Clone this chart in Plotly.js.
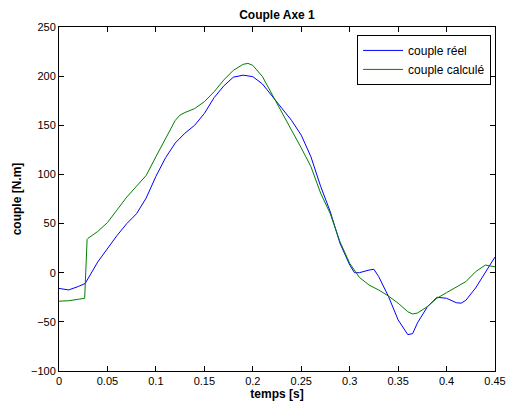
<!DOCTYPE html>
<html>
<head>
<meta charset="utf-8">
<script src="https://cdn.plot.ly/plotly-3.0.1.min.js"></script>
<style>html,body{margin:0;padding:0;background:#fff;}#chart{width:508px;height:414px;}</style>
</head>
<body>
<div id="chart"></div>
<script>
const tReel = [0, 0.01, 0.02, 0.027, 0.04, 0.05, 0.06, 0.07, 0.08, 0.09, 0.1, 0.11, 0.12, 0.13, 0.14, 0.15, 0.16, 0.17, 0.18, 0.19, 0.2, 0.21, 0.22, 0.23, 0.24, 0.25, 0.26, 0.27, 0.28, 0.29, 0.3, 0.305, 0.31, 0.32, 0.325, 0.33, 0.34, 0.35, 0.36, 0.365, 0.37, 0.38, 0.39, 0.4, 0.41, 0.415, 0.42, 0.43, 0.44, 0.45];
const coupleReel = [-16, -17.5, -14, -11, 11, 25, 38, 50, 60, 76, 98, 117, 132, 142, 150, 162, 178, 190, 199, 201, 199.5, 192, 180, 168, 155, 140, 118, 88, 62, 30, 8, 0, 0, 2.7, 3.5, -4, -24, -48, -63, -62, -51, -35, -25, -26, -30.5, -31, -28, -15.5, 0, 16];
const tCalc = [0, 0.01, 0.02, 0.0265, 0.029, 0.03, 0.04, 0.05, 0.06, 0.07, 0.08, 0.09, 0.1, 0.11, 0.12, 0.125, 0.13, 0.14, 0.15, 0.16, 0.17, 0.18, 0.19, 0.195, 0.2, 0.21, 0.22, 0.23, 0.24, 0.25, 0.26, 0.27, 0.28, 0.29, 0.3, 0.31, 0.32, 0.33, 0.34, 0.35, 0.36, 0.365, 0.37, 0.38, 0.39, 0.4, 0.41, 0.42, 0.43, 0.44, 0.45];
const coupleCalc = [-29, -28.5, -27, -26, 34, 35, 42, 51, 64, 77, 88, 99, 118, 137, 155, 160.5, 163, 167, 174, 184, 196, 206, 212, 213, 211, 199.5, 181, 162, 145, 127, 108, 81, 60, 31.5, 9.6, -4.7, -12.5, -17.6, -23.7, -31, -39.7, -42, -41, -34.6, -26, -20.3, -14.8, -9, 1, 7.8, 6];
const xTicks = [0, 0.05, 0.1, 0.15, 0.2, 0.25, 0.3, 0.35, 0.4, 0.45];
const xTickLabels = ['0', '0.05', '0.1', '0.15', '0.2', '0.25', '0.3', '0.35', '0.4', '0.45'];
const yTicks = [-100, -50, 0, 50, 100, 150, 200, 250];

const font = 'Liberation Sans, Arial, Helvetica, sans-serif';
const traces = [
  {x: tReel, y: coupleReel, name: 'couple réel', type: 'scatter', mode: 'lines', line: {color: '#0000ff', width: 1}},
  {x: tCalc, y: coupleCalc, name: 'couple calculé', type: 'scatter', mode: 'lines', line: {color: '#008000', width: 1}}
];
const axisCommon = {
  showgrid: false, zeroline: false, showline: true, linecolor: '#000', linewidth: 1,
  mirror: 'ticks', ticks: 'inside', ticklen: 5, tickcolor: '#000', tickwidth: 1,
  tickfont: {family: font, size: 11, color: '#000'}
};
const layout = {
  width: 508, height: 414,
  margin: {l: 59, r: 13, t: 27, b: 43},
  paper_bgcolor: '#fff', plot_bgcolor: '#fff',
  font: {family: font, color: '#000'},
  title: {text: '<b>Couple Axe 1</b>', font: {family: font, size: 12, color: '#000'}, x: 0.5, xref: 'paper', y: 1, yref: 'paper', yanchor: 'bottom', pad: {b: 8}},
  xaxis: Object.assign({}, axisCommon, {range: [0, 0.45], tickvals: xTicks, ticktext: xTickLabels,
    title: {text: '<b>temps [s]</b>', font: {family: font, size: 12, color: '#000'}, standoff: 2}}),
  yaxis: Object.assign({}, axisCommon, {range: [-100, 250], tickvals: yTicks,
    title: {text: '<b>couple [N.m]</b>', font: {family: font, size: 12, color: '#000'}, standoff: 6}}),
  legend: {x: 0.991, y: 0.977, xanchor: 'right', yanchor: 'top', bgcolor: '#fff', bordercolor: '#000', borderwidth: 1,
    font: {family: font, size: 12, color: '#000'}, tracegroupgap: 0, itemwidth: 40},
  showlegend: true
};
Plotly.newPlot('chart', traces, layout, {staticPlot: true, displayModeBar: false});
</script>
</body>
</html>
